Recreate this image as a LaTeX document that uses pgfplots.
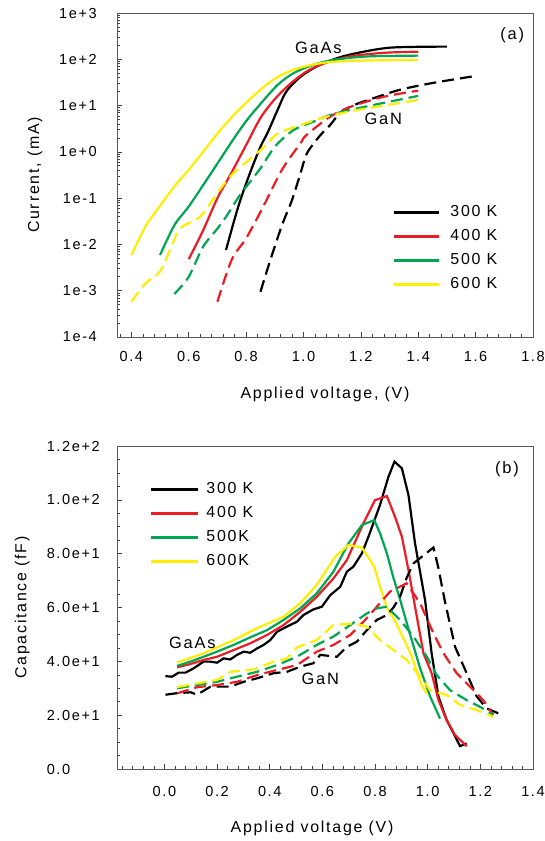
\documentclass[border=0pt]{standalone}
\usepackage{fontspec}
\setmainfont{Liberation Sans}[LetterSpace=11]
\usepackage{pgfplots}
\pgfplotsset{compat=1.18}
\definecolor{cR}{HTML}{ED1C24}
\definecolor{cG}{HTML}{00A651}
\definecolor{cY}{HTML}{FFEE00}
\pgfplotsset{
  myax/.style={
    scale only axis, width=416bp,
    axis line style={draw=black!65, line width=0.8bp},
    tick align=inside, xtick pos=bottom, ytick pos=left,
    major tick length=5bp, minor tick length=3bp,
    every tick/.style={black!75, line width=0.6bp},
    tick label style={font=\fontsize{14.6}{16}\selectfont},
    label style={font=\fontsize{16}{18}\selectfont},
    legend cell align=left,
  },
}
\begin{document}
\begin{tikzpicture}
\path[use as bounding box] (0,0) rectangle (545bp,-841bp);
% ---------------- (a) ----------------
\begin{axis}[myax, height=324bp, at={(117bp,-337bp)}, anchor=south west,
  ymode=log, xmin=0.35, xmax=1.8, ymin=1e-4, ymax=1e3,
  xtick={0.2,0.4,0.6,0.8,1.0,1.2,1.4,1.6,1.8},
  xticklabels={,0.4,0.6,0.8,1.0,1.2,1.4,1.6,1.8},
  minor x tick num=4,
  ytick={1e-4,1e-3,1e-2,1e-1,1,1e1,1e2,1e3},
  yticklabels={1e-4,1e-3,1e-2,1e-1,1e+0,1e+1,1e+2,1e+3},
  yticklabel style={anchor=east, inner sep=0pt}, yticklabel shift=20bp,
  xticklabel style={inner sep=0pt}, xticklabel shift=14bp,
  xlabel={Applied voltage, (V)}, ylabel={Current, (mA)},
  xlabel style={at={(axis description cs:0.5,-0.176)}, anchor=center},
  ylabel style={at={(axis description cs:-0.197,0.5)}, anchor=center},
  legend image code/.code={\draw[#1, line width=2.4bp] (0bp,0bp) -- (45bp,0bp);},
  legend style={draw=none, fill=none, at={(axis description cs:0.663,0.273)}, anchor=west,
    inner sep=0pt, row sep=8bp, font=\fontsize{16}{18}\selectfont,
    nodes={inner sep=1bp, text height=11bp, text depth=3bp},
    /tikz/every odd column/.append style={column sep=9bp}},
]
\addplot[black,line width=2.2bp,smooth] coordinates {(0.73,0.0076)(0.756,0.029)(0.78,0.091)(0.815,0.37)(0.85,1.29)(0.875,2.6)(0.91,8.1)(0.94,20)(0.99,42)(1.05,72)(1.13,112)(1.22,150)(1.30,178)(1.40,186)(1.50,188)};
\addlegendentry{300 K}
\addplot[cR,line width=2.2bp,smooth] coordinates {(0.60,0.0048)(0.65,0.020)(0.70,0.10)(0.745,0.32)(0.80,1.4)(0.85,5.4)(0.90,13.8)(0.955,30)(1.01,54)(1.07,81)(1.16,115)(1.28,138)(1.40,146)};
\addlegendentry{400 K}
\addplot[cG,line width=2.2bp,smooth] coordinates {(0.50,0.0059)(0.55,0.026)(0.60,0.066)(0.65,0.19)(0.70,0.56)(0.75,1.66)(0.80,4.6)(0.845,10)(0.91,28)(0.965,50)(1.035,76)(1.105,97)(1.22,115)(1.40,120)};
\addlegendentry{500 K}
\addplot[cY,line width=2.2bp,smooth] coordinates {(0.40,0.0059)(0.45,0.025)(0.50,0.068)(0.55,0.18)(0.60,0.41)(0.65,1.0)(0.70,2.5)(0.75,5.6)(0.80,11.5)(0.85,22)(0.90,38)(0.96,58)(1.03,76)(1.10,88)(1.22,94)(1.40,97)};
\addlegendentry{600 K}
\addplot[black,line width=2.2bp,dash pattern=on 12bp off 6bp,smooth,forget plot] coordinates {(0.85,0.00095)(0.885,0.0047)(0.925,0.026)(0.96,0.091)(0.99,0.35)(1.012,0.93)(1.059,2.3)(1.093,3.8)(1.128,7.0)(1.175,10.2)(1.245,14.5)(1.337,22)(1.453,31)(1.604,44)};
\addplot[cR,line width=2.2bp,dash pattern=on 12bp off 6bp,smooth,forget plot] coordinates {(0.70,0.00058)(0.75,0.0047)(0.80,0.0135)(0.86,0.066)(0.925,0.41)(0.99,1.55)(1.01,2.3)(1.09,5.6)(1.16,9.2)(1.28,15.5)(1.40,21)};
\addplot[cG,line width=2.2bp,dash pattern=on 12bp off 6bp,smooth,forget plot] coordinates {(0.55,0.00085)(0.60,0.0020)(0.65,0.0089)(0.70,0.022)(0.735,0.044)(0.78,0.12)(0.85,0.44)(0.90,1.29)(0.965,2.95)(1.035,4.5)(1.105,6.6)(1.22,9.6)(1.40,16.2)};
\addplot[cY,line width=2.2bp,dash pattern=on 12bp off 6bp,smooth,forget plot] coordinates {(0.40,0.00058)(0.45,0.00145)(0.50,0.0026)(0.535,0.0076)(0.57,0.022)(0.64,0.040)(0.70,0.13)(0.75,0.32)(0.81,0.67)(0.87,1.4)(0.91,2.5)(0.99,3.8)(1.06,5.3)(1.13,6.8)(1.22,8.7)(1.40,13.2)};
\node[font=\fontsize{16.5}{18}\selectfont] at (axis cs:1.052,175) {GaAs};
\node[font=\fontsize{16.5}{18}\selectfont] at (axis cs:1.278,5.1) {GaN};
\node[font=\fontsize{16.5}{18}\selectfont] at (axis description cs:0.95,0.932) {(a)};
\end{axis}
% ---------------- (b) ----------------
\begin{axis}[myax, height=323bp, at={(117bp,-769bp)}, anchor=south west,
  xmin=-0.18, xmax=1.4, ymin=0, ymax=120,
  xtick={-0.2,0,0.2,0.4,0.6,0.8,1.0,1.2,1.4},
  xticklabels={,0.0,0.2,0.4,0.6,0.8,1.0,1.2,1.4},
  minor x tick num=4,
  ytick={0,20,40,60,80,100,120},
  yticklabels={0.0,2.0e+1,4.0e+1,6.0e+1,8.0e+1,1.0e+2,1.2e+2},
  minor y tick num=3,
  yticklabel style={anchor=east, inner sep=0pt, text width=59bp, align=left}, yticklabel shift=11bp,
  xticklabel style={inner sep=0pt}, xticklabel shift=17bp,
  xlabel={Applied voltage (V)}, ylabel={Capacitance (fF)},
  xlabel style={at={(axis description cs:0.469,-0.183)}, anchor=center},
  ylabel style={at={(axis description cs:-0.228,0.5)}, anchor=center},
  legend image code/.code={\draw[#1, line width=2.4bp] (0bp,0bp) -- (47bp,0bp);},
  legend style={draw=none, fill=none, at={(axis description cs:0.079,0.754)}, anchor=west,
    inner sep=0pt, row sep=8bp, font=\fontsize{16}{18}\selectfont,
    nodes={inner sep=1bp, text height=11bp, text depth=3bp},
    /tikz/every odd column/.append style={column sep=6bp}},
]
\addplot[black,line width=2.2bp] coordinates {(0.004,34.5)(0.029,34.3)(0.054,35.8)(0.08,35.8)(0.111,37.4)(0.149,39.9)(0.174,39.9)(0.2,39.5)(0.225,41.1)(0.25,40.7)(0.276,42.4)(0.301,43.6)(0.326,43.2)(0.352,44.8)(0.377,46.1)(0.402,47.9)(0.428,51.0)(0.465,52.9)(0.503,54.7)(0.528,57.2)(0.566,59.3)(0.598,60.3)(0.63,64.6)(0.668,67.7)(0.693,73.3)(0.718,75.2)(0.75,80.1)(0.775,86.3)(0.819,98.1)(0.851,108.6)(0.874,114.2)(0.902,111.7)(0.927,101.8)(0.952,83.8)(0.99,62.8)(1.015,43.0)(1.041,26.9)(1.072,18.2)(1.098,13.3)(1.123,8.5)(1.148,9.5)};
\addlegendentry{300 K}
\addplot[cR,line width=2.2bp] coordinates {(0.048,37.8)(0.099,39.0)(0.149,40.5)(0.2,41.7)(0.263,44.2)(0.326,46.7)(0.39,49.8)(0.453,53.5)(0.516,58.4)(0.579,64.0)(0.642,70.8)(0.693,77.6)(0.756,91.3)(0.80,99.9)(0.845,101.4)(0.876,93.7)(0.902,86.3)(0.927,73.9)(0.952,60.3)(0.984,43.0)(1.015,35.6)(1.041,25.6)(1.072,18.2)(1.104,12.6)(1.148,8.5)};
\addlegendentry{400 K}
\addplot[cG,line width=2.2bp] coordinates {(0.048,38.3)(0.099,39.9)(0.149,41.7)(0.2,43.6)(0.263,46.1)(0.326,48.9)(0.39,51.6)(0.453,55.4)(0.516,59.7)(0.579,65.3)(0.642,73.3)(0.699,83.8)(0.75,90.6)(0.797,92.5)(0.819,87.6)(0.845,80.1)(0.87,71)(0.895,63)(0.933,50)(0.971,37.5)(1.009,27)(1.047,18.7)};
\addlegendentry{500K}
\addplot[cY,line width=2.2bp] coordinates {(0.048,39.5)(0.149,43.0)(0.263,47.9)(0.352,52.3)(0.453,56.6)(0.516,61.6)(0.579,68.4)(0.649,78.9)(0.699,83.2)(0.75,82.3)(0.797,75.2)(0.819,67.7)(0.845,60)(0.876,55)(0.935,43)(0.975,31.5)(0.997,28)};
\addlegendentry{600K}
\addplot[black,line width=2.2bp,dash pattern=on 12bp off 6bp,forget plot] coordinates {(0.004,27.6)(0.05,28.2)(0.10,28.5)(0.124,27.6)(0.175,30.6)(0.25,30.6)(0.301,32.4)(0.352,33.7)(0.415,35.6)(0.465,36.1)(0.516,38.0)(0.566,39.3)(0.592,42.4)(0.655,41.7)(0.693,45.4)(0.731,47.3)(0.769,51.6)(0.807,55.4)(0.845,57.2)(0.87,60)(0.895,64)(0.92,71)(0.946,76.4)(0.978,78.9)(1.022,82.3)(1.04,75)(1.066,62)(1.104,45.4)(1.148,35.6)(1.186,27)(1.224,22.5)(1.268,20.7)};
\addplot[cR,line width=2.2bp,dash pattern=on 12bp off 6bp,forget plot] coordinates {(0.048,28.1)(0.124,30.4)(0.2,31.2)(0.276,32.4)(0.352,34.9)(0.428,36.8)(0.503,38.6)(0.579,43.6)(0.642,46.1)(0.706,49.8)(0.756,54.7)(0.807,60.3)(0.857,65.9)(0.92,69.0)(0.971,61.6)(1.022,50.4)(1.06,43.0)(1.11,35.6)(1.161,30.6)(1.211,25.6)(1.249,20.1)};
\addplot[cG,line width=2.2bp,dash pattern=on 12bp off 6bp,forget plot] coordinates {(0.048,30.0)(0.124,31.2)(0.2,32.4)(0.276,34.3)(0.352,36.1)(0.428,38.6)(0.503,41.7)(0.579,46.1)(0.642,49.2)(0.706,53.5)(0.769,57.8)(0.807,59.7)(0.845,60.3)(0.895,55.4)(0.946,49.2)(0.997,41.7)(1.034,34.9)(1.085,29.3)(1.148,25.6)(1.199,23.1)(1.249,20.1)};
\addplot[cY,line width=2.2bp,dash pattern=on 12bp off 6bp,forget plot] coordinates {(0.048,30.4)(0.124,31.8)(0.2,33.1)(0.25,36.1)(0.339,37.0)(0.415,39.9)(0.465,41.1)(0.503,45.2)(0.579,47.9)(0.642,53.5)(0.718,54.1)(0.769,52.9)(0.819,47.9)(0.87,44.2)(0.921,40.5)(0.971,34.3)(1.009,29.3)(1.072,27.5)(1.123,23.8)(1.186,21.9)(1.249,19.4)};
\node[font=\fontsize{16.5}{18}\selectfont] at (axis cs:0.106,46.8) {GaAs};
\node[font=\fontsize{16.5}{18}\selectfont] at (axis cs:0.592,33.4) {GaN};
\node[font=\fontsize{16.5}{18}\selectfont] at (axis description cs:0.9375,0.929) {(b)};
\end{axis}
\end{tikzpicture}
\end{document}
